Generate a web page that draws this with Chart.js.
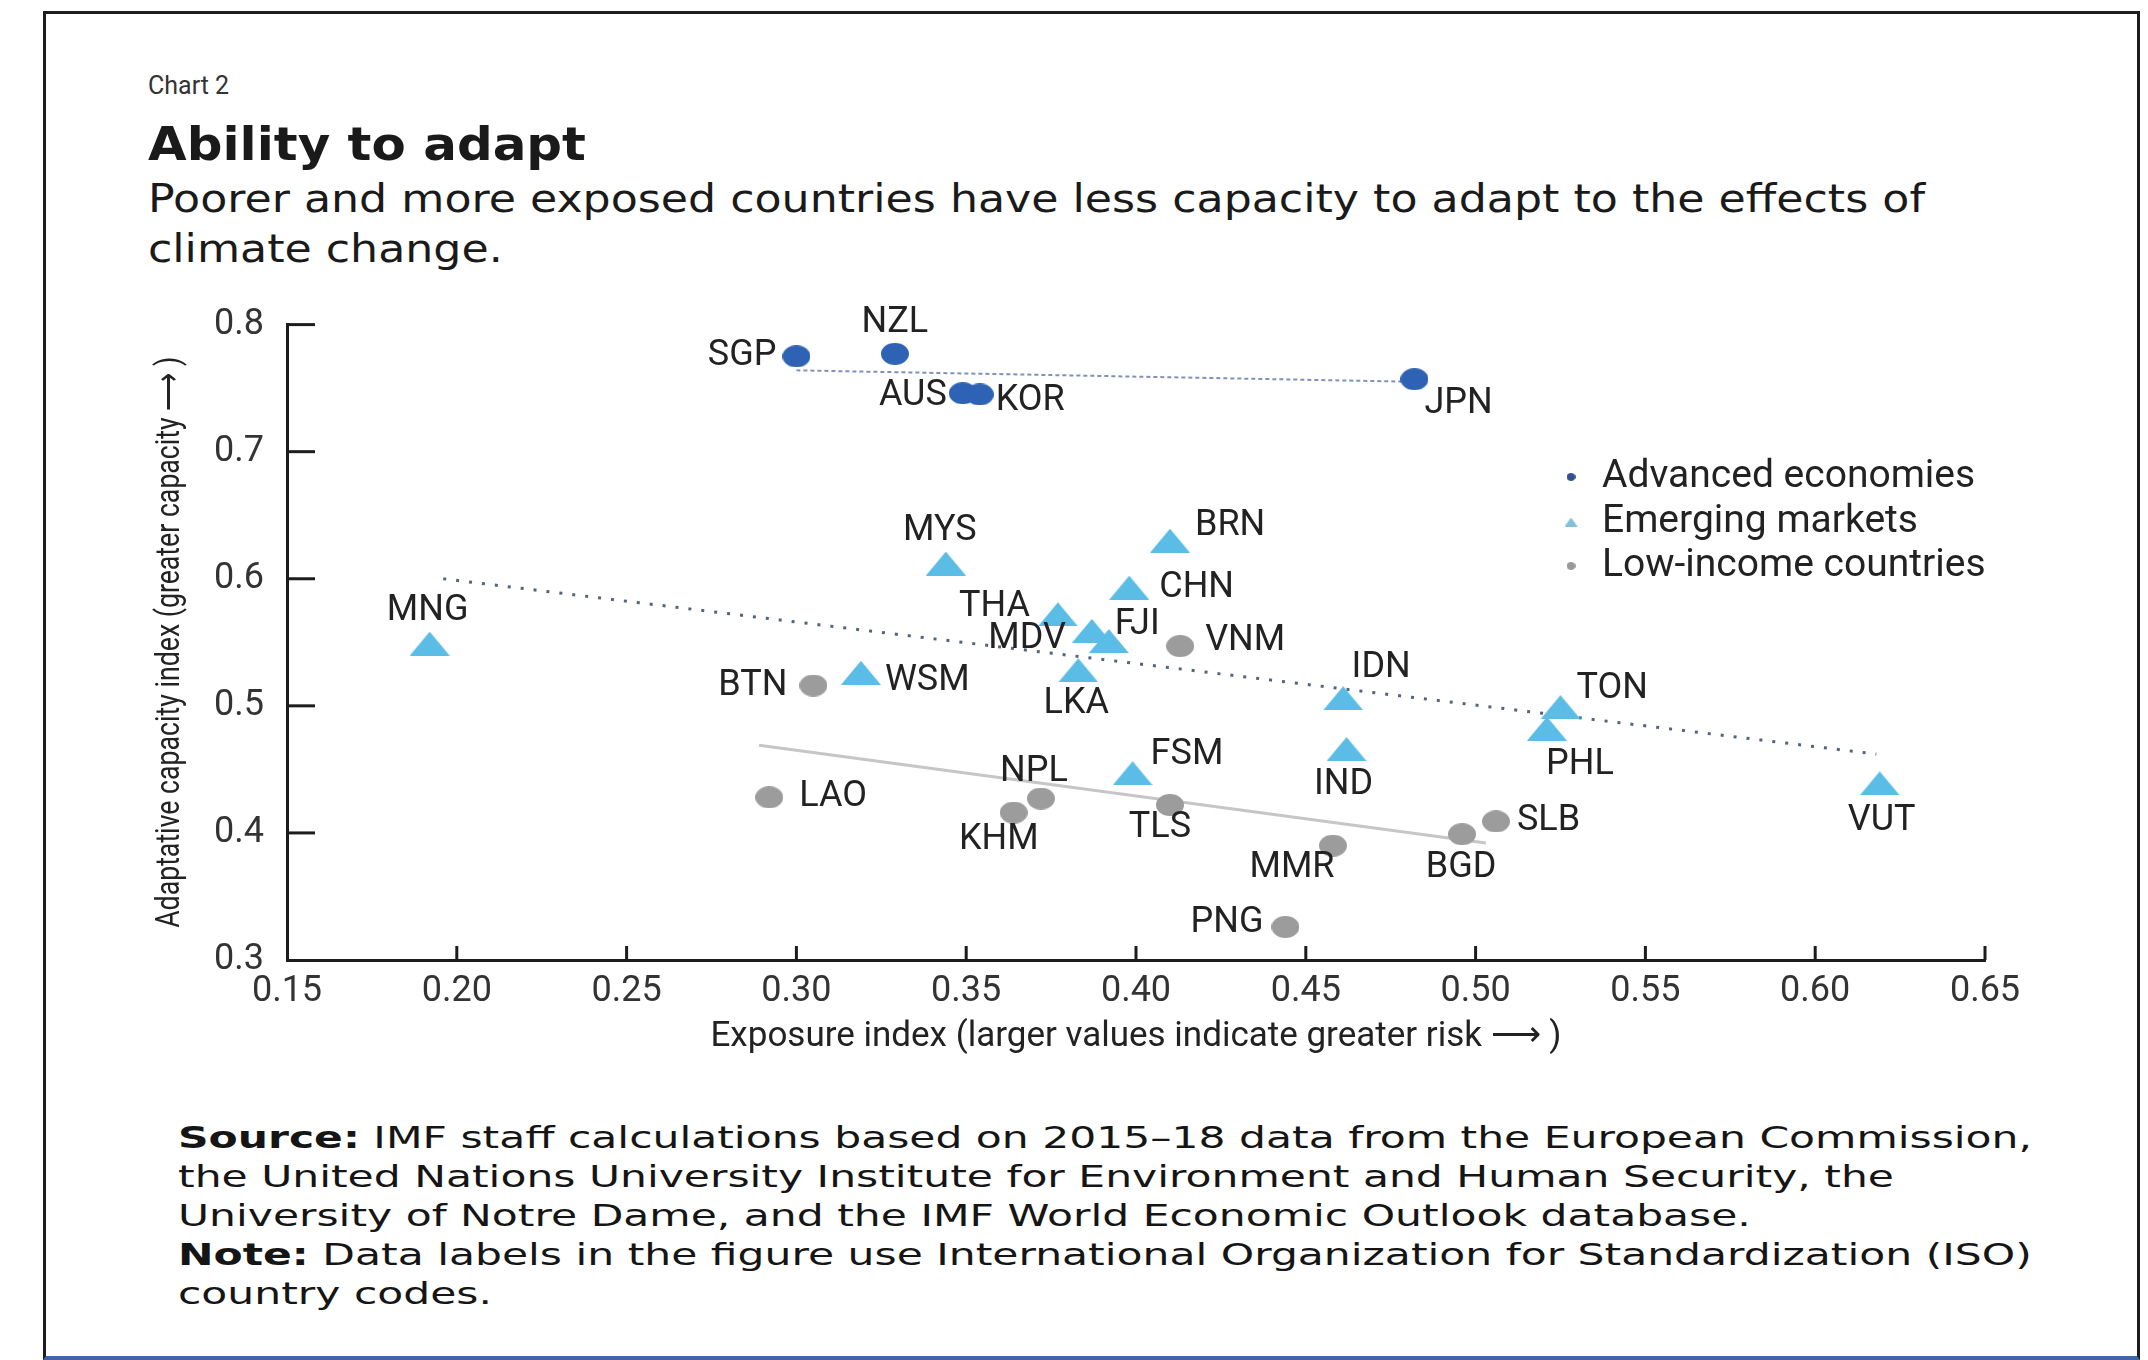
<!DOCTYPE html>
<html>
<head>
<meta charset="utf-8">
<script src="https://cdn.jsdelivr.net/npm/chart.js@4.4.0/dist/chart.umd.min.js"></script>
<style>
  body { margin: 0; width: 2148px; height: 1360px; background: #fff; position: relative; overflow: hidden; color: #1a1a1a; font-family: "DejaVu Sans", sans-serif; }
  #frame { position: absolute; left: 43px; top: 11px; width: 2091px; height: 1342px; border-top: 3px solid #1c1c1c; border-left: 3px solid #1c1c1c; border-right: 3px solid #1c1c1c; border-bottom: 4px solid #3d67a6; }
  .t { position: absolute; white-space: nowrap; transform-origin: 0 0; }
  #kicker { left: 148px; top: 71px; font: 25px Roboto, sans-serif; line-height: 30px; color: #333; }
  #title { left: 148px; top: 118px; font: bold 47px "DejaVu Sans", sans-serif; line-height: 52px; }
  #sub { left: 148px; top: 174px; font: 39px "DejaVu Sans", sans-serif; line-height: 50px; }
  #notes { left: 178px; top: 1118px; font: 30px "DejaVu Sans", sans-serif; line-height: 39px; color: #151515; }
  #wrap { position: absolute; left: 45px; top: 280px; width: 2092px; height: 800px; }
</style>
</head>
<body>
<div id="frame"></div>
<div class="t" id="kicker">Chart 2</div>
<div class="t" id="title" data-w="438">Ability to adapt</div>
<div class="t" id="sub" data-w="1777">Poorer and more exposed countries have less capacity to adapt to the effects of<br>climate change.</div>
<div class="t" id="notes" data-w="1854"><b>Source:</b> IMF staff calculations based on 2015–18 data from the European Commission,<br>the United Nations University Institute for Environment and Human Security, the<br>University of Notre Dame, and the IMF World Economic Outlook database.<br><b>Note:</b> Data labels in the figure use International Organization for Standardization (ISO)<br>country codes.</div>
<div id="wrap"><canvas id="chart"></canvas></div>
<script>
// data
var advCodes = ['SGP', 'NZL', 'AUS', 'KOR', 'JPN'];
var advX = [0.300, 0.329, 0.349, 0.354, 0.482];
var advY = [0.775, 0.777, 0.746, 0.745, 0.757];

var emCodes = ['MNG', 'MYS', 'BRN', 'CHN', 'THA', 'MDV', 'FJI', 'LKA', 'WSM', 'IDN', 'IND', 'FSM', 'TON', 'PHL', 'VUT'];
var emX = [0.192, 0.344, 0.410, 0.398, 0.377, 0.387, 0.392, 0.383, 0.319, 0.461, 0.462, 0.399, 0.525, 0.521, 0.619];
var emY = [0.549, 0.612, 0.630, 0.593, 0.572, 0.559, 0.551, 0.528, 0.526, 0.506, 0.466, 0.447, 0.499, 0.482, 0.439];

var licCodes = ['BTN', 'LAO', 'KHM', 'NPL', 'TLS', 'VNM', 'MMR', 'BGD', 'SLB', 'PNG'];
var licX = [0.305, 0.292, 0.364, 0.372, 0.410, 0.413, 0.458, 0.496, 0.506, 0.444];
var licY = [0.516, 0.428, 0.416, 0.427, 0.422, 0.547, 0.390, 0.399, 0.409, 0.326];

// trend line end points
var advFitX = [0.300, 0.482];
var advFitY = [0.764, 0.755];
var emFitX = [0.196, 0.618];
var emFitY = [0.600, 0.462];
var licFitX = [0.289, 0.503];
var licFitY = [0.469, 0.392];

var seriesNames = ['Advanced economies', 'Emerging markets', 'Low-income countries'];
var xTicks = [0.15, 0.20, 0.25, 0.30, 0.35, 0.40, 0.45, 0.50, 0.55, 0.60, 0.65];
var yTicks = [0.3, 0.4, 0.5, 0.6, 0.7, 0.8];
var xTitle = 'Exposure index (larger values indicate greater risk \u27F6 )';
var yTitle = 'Adaptative capacity index (greater capacity \u27F6 )';

// where each country label sits relative to its marker: [dx, dy, align]
var labelPos = {
    SGP: [-20, 0, 'right'], NZL: [0, -31, 'center'], AUS: [-16, 3, 'right'], KOR: [16, 7, 'left'], JPN: [10, 25, 'left'],
    MNG: [-2, -33, 'center'], MYS: [-6, -33, 'center'], BRN: [25, -15, 'left'], CHN: [30, 0, 'left'], THA: [-28, -7, 'right'],
    MDV: [-26, 8, 'right'], FJI: [6, -16, 'left'], LKA: [-2, 34, 'center'], WSM: [24, 8, 'left'], IDN: [38, -30, 'center'],
    IND: [-3, 36, 'center'], FSM: [18, -18, 'left'], TON: [16, -18, 'left'], PHL: [33, 36, 'center'], VUT: [2, 38, 'center'],
    BTN: [-26, 0, 'right'], LAO: [30, 0, 'left'], KHM: [-15, 27, 'center'], NPL: [-7, -27, 'center'], TLS: [-10, 23, 'center'],
    VNM: [25, -5, 'left'], MMR: [-41, 22, 'center'], BGD: [-1, 34, 'center'], SLB: [21, 0, 'left'], PNG: [-22, -4, 'right']
};

var colAdv = '#2e62b4';
var colEm = '#5bbde6';
var colLic = '#9c9c9c';

// stretch text blocks to the width they have in the picture
document.querySelectorAll('[data-w]').forEach(function(el) {
    var w = el.getBoundingClientRect().width;
    el.style.transform = 'scaleX(' + (parseFloat(el.dataset.w) / w) + ')';
});

function ellipseMark(w, h, color) {
    var c = document.createElement('canvas');
    c.width = w; c.height = h;
    var g = c.getContext('2d');
    g.fillStyle = color;
    g.beginPath();
    g.ellipse(w / 2, h / 2, w / 2, h / 2, 0, 0, Math.PI * 2);
    g.fill();
    return c;
}
function triangleMark(w, h, color) {
    var c = document.createElement('canvas');
    c.width = w; c.height = h;
    var g = c.getContext('2d');
    g.fillStyle = color;
    g.beginPath();
    g.moveTo(w / 2, 0);
    g.lineTo(w, h);
    g.lineTo(0, h);
    g.closePath();
    g.fill();
    return c;
}

function pts(xs, ys) {
    return xs.map(function(x, i) { return { x: x, y: ys[i] }; });
}

var legendMarks = [ellipseMark(9, 8, '#34508f'), triangleMark(13, 9, '#86bfdc'), ellipseMark(9, 8, '#9a9a9a')];

var extras = {
    id: 'extras',
    beforeDatasetsDraw: function(chart) {
        // inward tick marks
        var ctx = chart.ctx, xs = chart.scales.x, ys = chart.scales.y, a = chart.chartArea;
        ctx.save();
        ctx.strokeStyle = '#1c1c1c';
        ctx.lineWidth = 3;
        xs.ticks.forEach(function(t) {
            var px = xs.getPixelForValue(t.value);
            if (px < a.left + 2) return;
            ctx.beginPath(); ctx.moveTo(px, a.bottom); ctx.lineTo(px, a.bottom - 14); ctx.stroke();
        });
        ys.ticks.forEach(function(t) {
            var py = ys.getPixelForValue(t.value);
            if (py > a.bottom - 2) return;
            ctx.beginPath(); ctx.moveTo(a.left, py); ctx.lineTo(a.left + 28, py); ctx.stroke();
        });
        ctx.restore();
    },
    afterDraw: function(chart) {
        var ctx = chart.ctx, a = chart.chartArea;
        ctx.save();
        // country labels
        ctx.font = '36px Roboto, sans-serif';
        ctx.fillStyle = '#222';
        ctx.textBaseline = 'middle';
        [advCodes, emCodes, licCodes].forEach(function(codes, d) {
            var meta = chart.getDatasetMeta(d);
            codes.forEach(function(code, i) {
                var el = meta.data[i], p = labelPos[code];
                ctx.textAlign = p[2];
                ctx.fillText(code, el.x + p[0], el.y + p[1]);
            });
        });
        // legend
        ctx.font = '39px Roboto, sans-serif';
        ctx.textAlign = 'left';
        var rows = [197, 242, 286];
        seriesNames.forEach(function(name, i) {
            var m = legendMarks[i];
            ctx.drawImage(m, 1526 - m.width / 2, rows[i] - m.height / 2);
            ctx.fillStyle = '#222';
            ctx.fillText(name, 1557, rows[i]);
        });
        // y axis title, condensed like the original
        ctx.font = '33px Roboto, sans-serif';
        ctx.fillStyle = '#222';
        var w = ctx.measureText(yTitle).width;
        ctx.translate(126, (a.top + a.bottom) / 2);
        ctx.rotate(-Math.PI / 2);
        ctx.scale(571 / w, 1);
        ctx.textAlign = 'center';
        ctx.fillText(yTitle, 0, 0);
        ctx.restore();
    }
};

new Chart(document.getElementById('chart'), {
    type: 'scatter',
    data: {
        datasets: [
            { label: seriesNames[0], data: pts(advX, advY), pointStyle: ellipseMark(28, 22, colAdv), pointRadius: 12, pointHoverRadius: 12 },
            { label: seriesNames[1], data: pts(emX, emY), pointStyle: triangleMark(40, 24, colEm), pointRadius: 12, pointHoverRadius: 12 },
            { label: seriesNames[2], data: pts(licX, licY), pointStyle: ellipseMark(28, 22, colLic), pointRadius: 12, pointHoverRadius: 12 },
            { type: 'line', data: pts(advFitX, advFitY), borderColor: '#8090bd', borderWidth: 2, borderDash: [4, 3], pointRadius: 0, fill: false },
            { type: 'line', data: pts(emFitX, emFitY), borderColor: '#55637e', borderWidth: 3, borderDash: [3, 10], pointRadius: 0, fill: false },
            { type: 'line', data: pts(licFitX, licFitY), borderColor: '#c6c6c6', borderWidth: 3, pointRadius: 0, fill: false }
        ]
    },
    options: {
        responsive: true,
        maintainAspectRatio: false,
        animation: false,
        layout: { padding: { left: 0, right: 152, top: 38, bottom: 0 } },
        plugins: { legend: { display: false }, tooltip: { enabled: false } },
        scales: {
            x: {
                type: 'linear', min: 0.15, max: 0.65,
                afterBuildTicks: function(s) { s.ticks = xTicks.map(function(v) { return { value: v }; }); },
                afterFit: function(s) { s.height = 120; },
                grid: { display: false, drawTicks: false },
                border: { display: true, color: '#1c1c1c', width: 3 },
                ticks: { padding: 10, color: '#333', font: { family: 'Roboto', size: 36 }, callback: function(v) { return v.toFixed(2); } },
                title: { display: true, text: xTitle, color: '#222', font: { family: 'Roboto', size: 35 }, padding: { top: 0, bottom: 22 } }
            },
            y: {
                type: 'linear', min: 0.3, max: 0.8,
                afterBuildTicks: function(s) { s.ticks = yTicks.map(function(v) { return { value: v }; }); },
                afterFit: function(s) { s.width = 242; },
                grid: { display: false, drawTicks: false },
                border: { display: true, color: '#1c1c1c', width: 3 },
                ticks: { padding: 23, color: '#333', font: { family: 'Roboto', size: 36 }, callback: function(v) { return v.toFixed(1); } }
            }
        }
    },
    plugins: [extras]
});
</script>
</body>
</html>
